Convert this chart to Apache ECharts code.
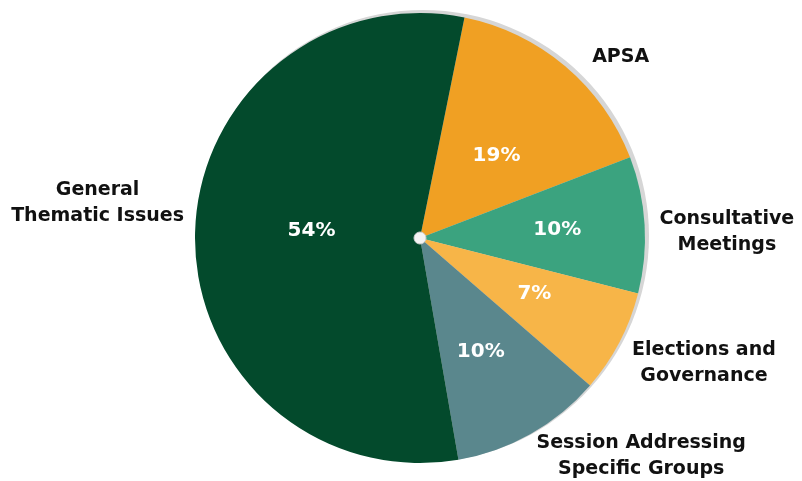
<!DOCTYPE html>
<html>
<head>
<meta charset="utf-8">
<script src="https://cdn.jsdelivr.net/npm/echarts@6/dist/echarts.min.js"></script>
<style>
html,body{margin:0;padding:0;background:#fff;}
#chart{width:802px;height:481px;}
</style>
</head>
<body>
<div id="chart"></div>
<script>
// Categories in clockwise order starting just right of 12 o'clock
var categories = ['APSA', 'Consultative\nMeetings', 'Elections and\nGovernance', 'Session Addressing\nSpecific Groups', 'General\nThematic Issues'];
// Slice sizes as drawn in the picture (angular share, %)
var sliceValues = [16.0, 9.8, 7.4, 10.9, 55.9];
// Printed percentage labels
var pctLabels = ['19%', '10%', '7%', '10%', '54%'];
var sliceColors = ['#F0A023', '#3BA37F', '#F7B548', '#5A878D', '#034A2C'];

// label fine-tuning (style only)
var nameOffsets = [[9, 6], [-10, 8], [-10, 12], [-9, 5], [14, -32]];
var pctOffsets = [[2, 6], [22, -1], [12, 2], [4, 13], [7, -6]];

var chart = echarts.init(document.getElementById('chart'), null, {renderer: 'canvas'});
var CX = 420, CY = 238, R = 225;
var FONT = '"DejaVu Sans", sans-serif';

var mainData = categories.map(function (c, i) {
  return { name: c, value: sliceValues[i], itemStyle: { color: sliceColors[i] } };
});

chart.setOption({
  animation: false,
  series: [
    {
      type: 'pie', silent: true, z: 1,
      center: [CX + 3, CY - 2], radius: R + 1,
      label: { show: false }, labelLine: { show: false },
      data: [{ value: 1, itemStyle: { color: '#d6d6d6' } }]
    },
    {
      type: 'pie', z: 2,
      center: [CX, CY], radius: R,
      startAngle: 78.6, clockwise: true,
      itemStyle: { borderWidth: 0 },
      label: {
        show: true, position: 'inside',
        color: '#ffffff', fontFamily: FONT, fontWeight: 700, fontSize: 20,
        formatter: function (p) { return pctLabels[p.dataIndex]; }
      },
      labelLayout: function (p) {
        var o = pctOffsets[p.dataIndex];
        return { dx: o[0], dy: o[1] };
      },
      labelLine: { show: false },
      data: mainData
    },
    {
      type: 'pie', z: 3, silent: true,
      center: [CX, CY], radius: R,
      startAngle: 78.6, clockwise: true,
      itemStyle: { color: 'rgba(0,0,0,0)', borderWidth: 0 },
      label: {
        show: true, position: 'outside',
        color: '#111111', fontFamily: FONT, fontWeight: 700, fontSize: 19,
        lineHeight: 26,
        align: 'center',
        overflow: 'none'
      },
      labelLine: { show: false, length: 20, length2: 0 },
      labelLayout: function (p) {
        var r = p.labelRect, o = nameOffsets[p.dataIndex];
        return { x: r.x + r.width / 2 + o[0], y: r.y + r.height / 2 + o[1], align: 'center', verticalAlign: 'middle' };
      },
      data: categories.map(function (c, i) { return { name: c, value: sliceValues[i] }; })
    },
    {
      type: 'pie', silent: true, z: 4,
      center: [CX, CY], radius: 6,
      label: { show: false }, labelLine: { show: false },
      itemStyle: { color: '#f4f4f4', borderColor: '#cfcfcf', borderWidth: 1 },
      data: [{ value: 1 }]
    }
  ]
});
</script>
</body>
</html>
